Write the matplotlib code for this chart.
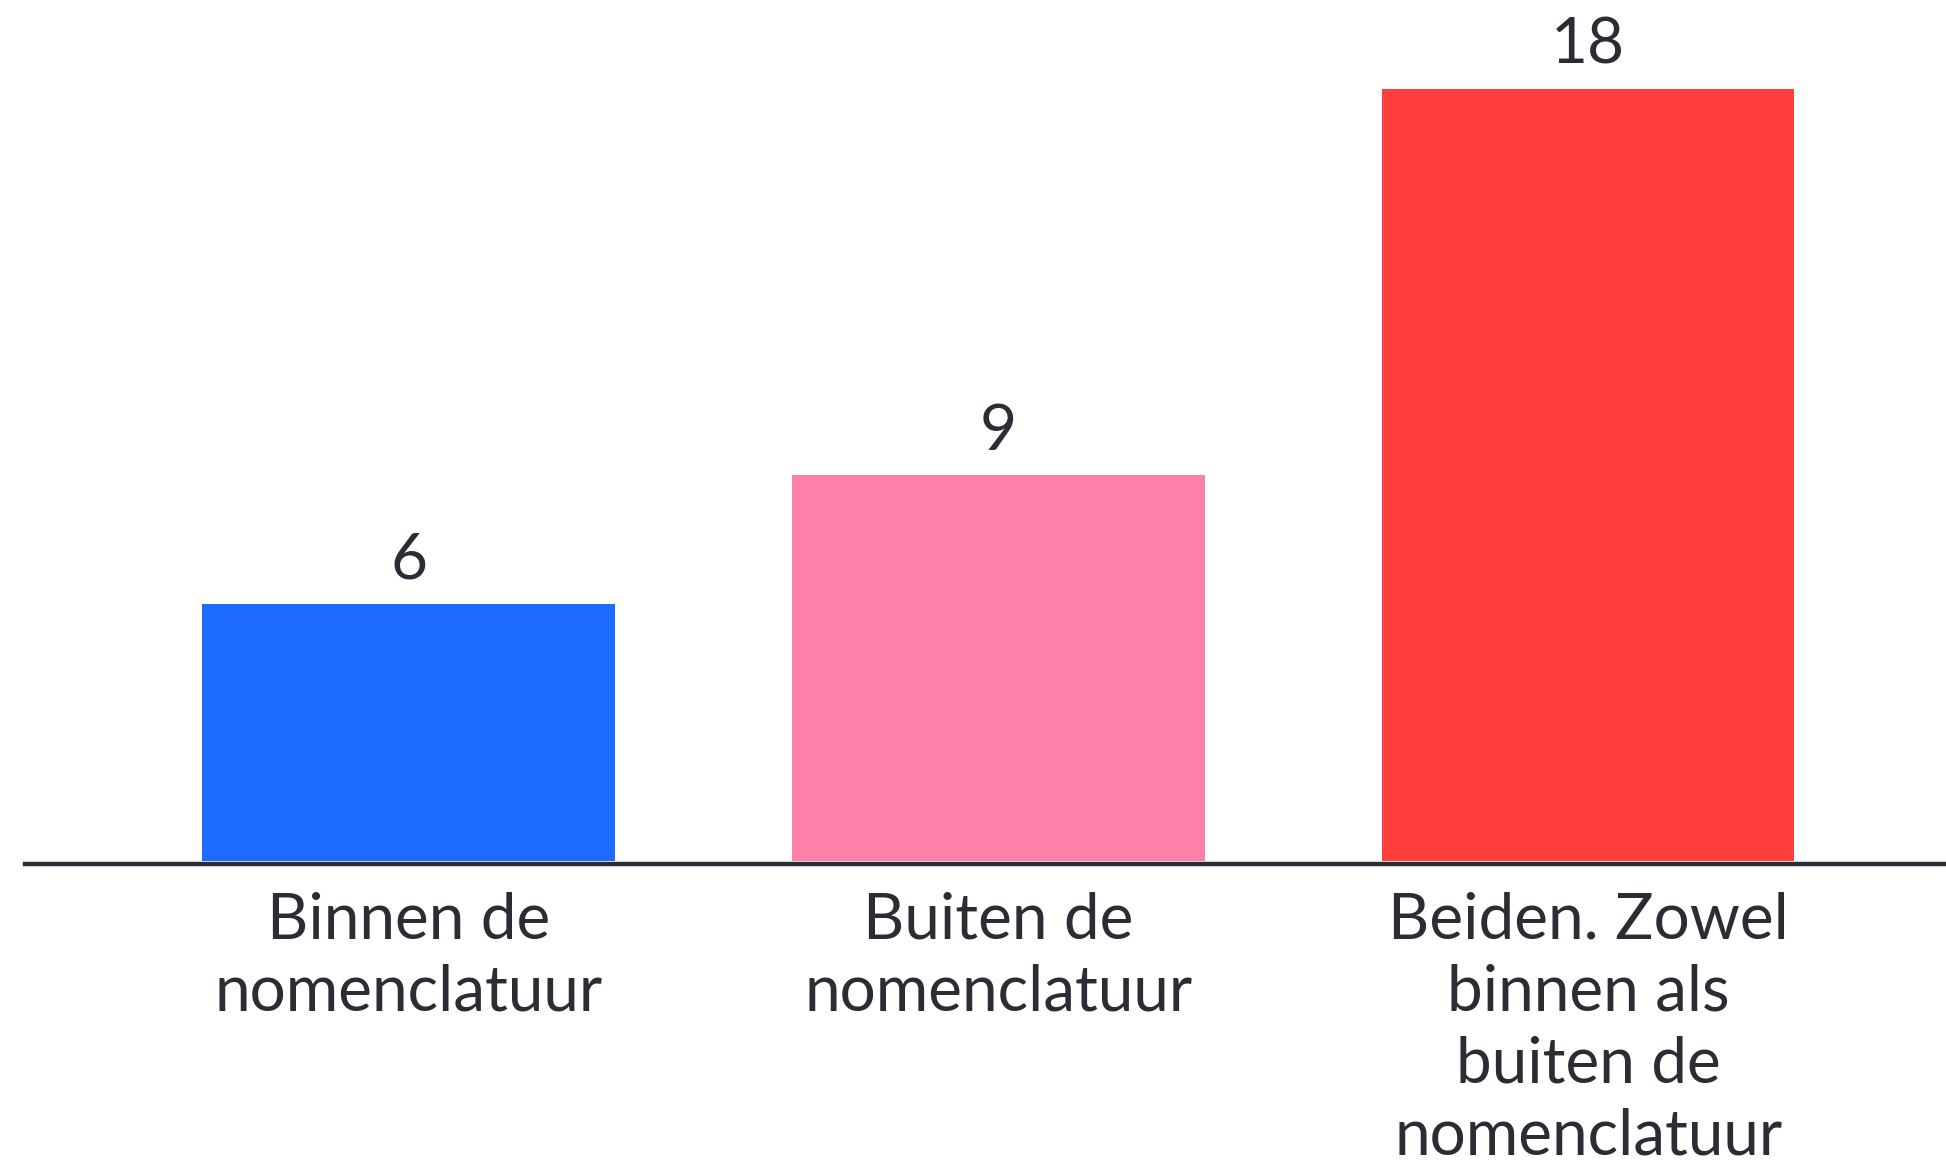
import matplotlib
matplotlib.use("Agg")
import matplotlib.pyplot as plt

# Data
categories = ["Binnen de\nnomenclatuur",
              "Buiten de\nnomenclatuur",
              "Beiden. Zowel\nbinnen als\nbuiten de\nnomenclatuur"]
values = [6, 9, 18]
colors = ["#1E6BFF", "#FF80AA", "#FF3F3B"]

TEXT = "#2A2D33"

plt.rcParams['font.family'] = ['Lato', 'DejaVu Sans']

fig = plt.figure(figsize=(19.46, 11.65), dpi=100)
ax = fig.add_axes([25 / 1946, 304 / 1165, 1921 / 1946, 861 / 1165])

x = list(range(len(values)))
bars = ax.bar(x, values, width=0.70, color=colors, zorder=2)
ax.bar_label(bars, labels=[str(v) for v in values], padding=10,
             fontsize=46, color=TEXT)

ax.set_xlim(-0.651, 2.607)
ax.set_ylim(0, 861 / 42.9)

# baseline, a bit below the bar bottoms
ax.axhline(-0.07, color="#2A2D33", linewidth=3.2, zorder=3, clip_on=False)

ax.set_xticks(x)
ax.set_xticklabels(categories, fontsize=46, color=TEXT, linespacing=1.3)
ax.tick_params(axis="x", length=0, pad=22)
ax.set_yticks([])
for s in ax.spines.values():
    s.set_visible(False)

fig.savefig("out.png", dpi=100)
